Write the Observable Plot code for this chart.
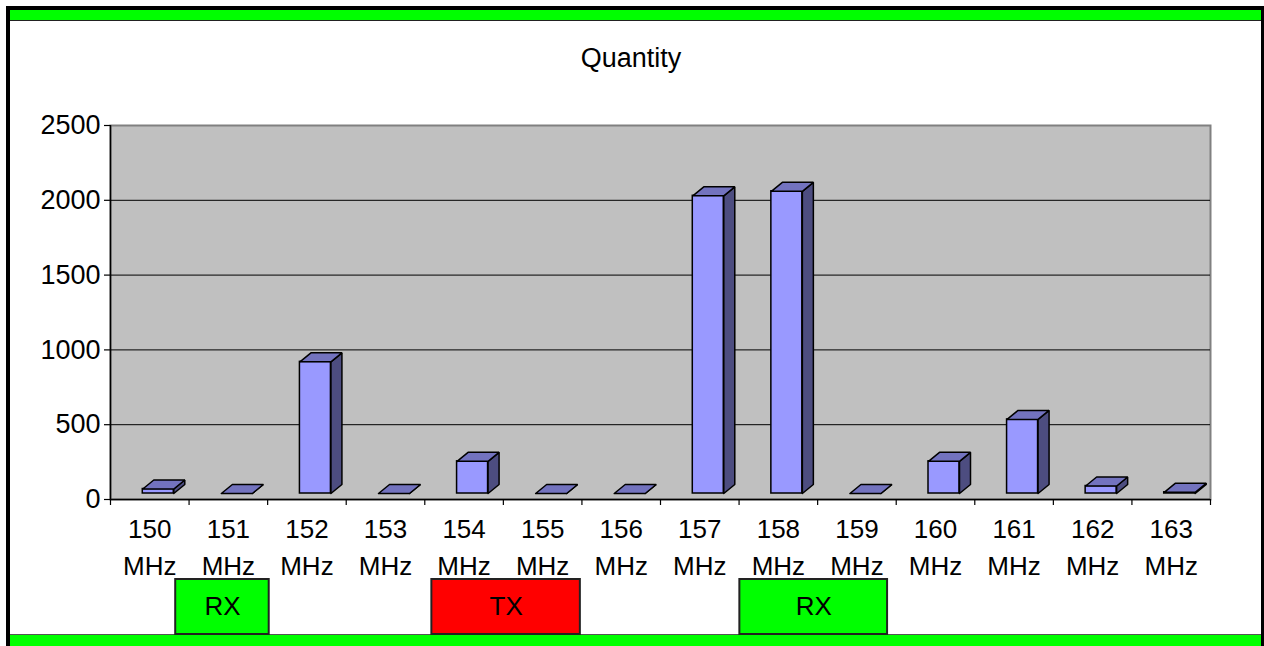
<!DOCTYPE html>
<html>
<head>
<meta charset="utf-8">
<script src="https://cdn.jsdelivr.net/npm/d3@7"></script>
<script src="https://cdn.jsdelivr.net/npm/@observablehq/plot@0.6"></script>
<style>
  html, body { margin: 0; padding: 0; background: #fff; overflow: hidden; }
  #page { position: relative; width: 1264px; height: 646px; font-family: "Liberation Sans", Arial, sans-serif; }
  #border { position: absolute; left: 6px; top: 6px; width: 1258px; height: 640px; box-sizing: border-box;
            border-left: 4px solid #000; border-top: 4px solid #000; border-right: 3px solid #000; }
  #strip-top { position: absolute; left: 10px; top: 10px; width: 1251px; height: 10px; background: #00ff00; border-bottom: 1px solid #222; }
  #strip-bottom { position: absolute; left: 10px; top: 634px; width: 1251px; height: 12px; box-sizing: border-box; background: #00ff00; border-top: 1px solid #555; }
  #title { position: absolute; left: 0; top: 45px; width: 1262px; text-align: center; font-size: 27px; line-height: 27px; color: #000; }
  #chart { position: absolute; left: 0; top: 0; }
  #bands { position: absolute; left: 0; top: 579px; }
</style>
</head>
<body>
<div id="page">
  <div id="border"></div>
  <div id="strip-top"></div>
  <div id="strip-bottom"></div>
  <div id="title">Quantity</div>
  <div id="chart"></div>
  <div id="bands"></div>
</div>
<script>
// Channel counts per 1 MHz step
const frequencies = [150, 151, 152, 153, 154, 155, 156, 157, 158, 159, 160, 161, 162, 163];
const quantities  = [30, 0, 880, 0, 215, 0, 0, 1990, 2020, 0, 215, 495, 50, 8];
const quantityTicks = [0, 500, 1000, 1500, 2000, 2500];

// Receive / transmit ranges (MHz)
const bandNames = ["RX", "TX", "RX"];
const bandStart = [150.33, 153.59, 157.51];
const bandEnd   = [151.52, 155.48, 159.39];

// Layout
const W = 1264, H = 646;
const mL = 110, mR = 54, mT = 125, mB = 147;
const xDomain = [frequencies[0] - 0.5, frequencies[frequencies.length - 1] + 0.5];
const yDomain = [0, 2500];
const pxPerMHz = (W - mL - mR) / (xDomain[1] - xDomain[0]);
const pxPerUnit = (H - mT - mB) / (yDomain[1] - yDomain[0]);

// 3-D column geometry (pixel sizes turned into data units)
const halfFace = 15.5 / pxPerMHz;
const depthX = 11 / pxPerMHz;
const depthY = 9 / pxPerUnit;
const shift = {dx: 8.5, dy: -6};
const font = "'Liberation Sans', Arial, sans-serif";

const rows = frequencies.map((f, i) => ({f, v: quantities[i], x1: f - halfFace, x2: f + halfFace}));

const topFaces = rows.flatMap((d, i) => [
  [d.x1, d.v], [d.x2, d.v], [d.x2 + depthX, d.v + depthY], [d.x1 + depthX, d.v + depthY], [d.x1, d.v]
].map(([x, y]) => ({id: i, x, y})));

const sideFaces = rows.flatMap((d, i) => [
  [d.x2, 0], [d.x2 + depthX, depthY], [d.x2 + depthX, d.v + depthY], [d.x2, d.v], [d.x2, 0]
].map(([x, y]) => ({id: i, x, y})));

const boundaries = d3.range(frequencies.length + 1).map(i => xDomain[0] + i);

const chart = Plot.plot({
  width: W,
  height: H,
  marginLeft: mL,
  marginRight: mR,
  marginTop: mT,
  marginBottom: mB,
  style: {background: "transparent", overflow: "visible", fontFamily: font, fontSize: "26px", color: "#000"},
  x: {domain: xDomain},
  y: {domain: yDomain},
  marks: [
    Plot.frame({fill: "#C0C0C0", stroke: "#808080", strokeWidth: 2}),
    Plot.ruleY(quantityTicks.slice(1, -1), {stroke: "#000", strokeWidth: 1}),
    Plot.ruleY([0], {stroke: "#000", strokeWidth: 1.5}),
    Plot.ruleX([xDomain[0]], {stroke: "#000", strokeWidth: 1.5}),
    Plot.axisY(quantityTicks, {tickSize: 6, tickPadding: 4, tickFormat: d => String(d), fontSize: 27, label: null, strokeWidth: 1.2}),
    Plot.axisX(boundaries, {tickSize: 6, tickFormat: () => "", label: null, strokeWidth: 1.2}),
    Plot.axisX(frequencies, {tickSize: 0, tickPadding: 13, tickFormat: d => `${d}\nMHz`, lineHeight: 1.4, label: null}),
    // column front faces
    Plot.rect(rows, {x1: "x1", x2: "x2", y1: 0, y2: "v", fill: "#9999FF", stroke: "#000", strokeWidth: 1.5, ...shift}),
    // column side faces
    Plot.line(sideFaces, {x: "x", y: "y", z: "id", fill: "#4D4D80", stroke: "#000", strokeWidth: 1.5, strokeLinejoin: "miter", ...shift}),
    // column top faces
    Plot.line(topFaces, {x: "x", y: "y", z: "id", fill: "#7373BF", stroke: "#000", strokeWidth: 1.5, strokeLinejoin: "miter", ...shift})
  ]
});
document.getElementById("chart").append(chart);

const bands = bandNames.map((name, i) => ({name, start: bandStart[i], end: bandEnd[i]}));

const bandChart = Plot.plot({
  width: W,
  height: 55,
  marginLeft: mL,
  marginRight: mR,
  marginTop: 0,
  marginBottom: 0,
  style: {background: "transparent", overflow: "visible", fontFamily: font, fontSize: "26px", color: "#000"},
  x: {domain: xDomain, axis: null},
  color: {domain: ["RX", "TX"], range: ["#00FF00", "#FF0000"]},
  marks: [
    Plot.rect(bands, {x1: "start", x2: "end", fill: "name", stroke: "#222", strokeWidth: 2}),
    Plot.text(bands, {x: d => (d.start + d.end) / 2, text: "name", frameAnchor: "middle", fill: "#000", fontSize: 26})
  ]
});
document.getElementById("bands").append(bandChart);
</script>
</body>
</html>
